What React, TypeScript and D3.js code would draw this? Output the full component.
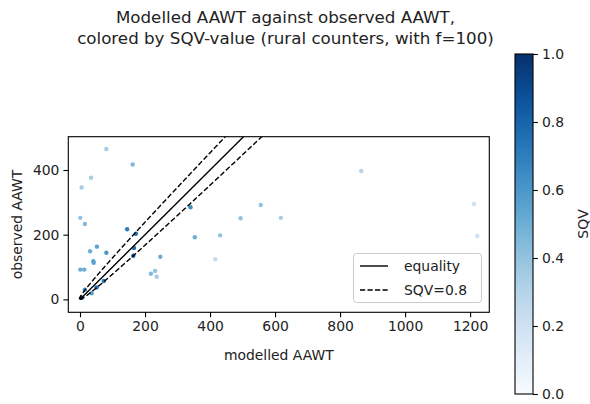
import { useEffect, useRef } from "react";
import * as d3 from "d3";

// modelled AAWT (x), observed AAWT (y), SQV (colour)
const modelled = [81, 162, 34, 5, 1, 15, 340, 494, 556, 618, 353, 431, 145, 172, 31, 52, 81, 166, 164, 41, 42, 247, 1, 13, 416, 218, 231, 236, 73, 51, 15, 36, 5, 865, 1212, 1222];
const observed = [465, 417, 376, 346, 252, 233, 285, 251, 292, 252, 192, 198, 217, 203, 149, 163, 144, 159, 135, 118, 113, 132, 92, 92, 124, 79, 88, 70, 57, 37, 30, 19, 5, 397, 295, 196];
const sqv = [0.35, 0.45, 0.35, 0.35, 0.4, 0.45, 0.65, 0.4, 0.4, 0.35, 0.5, 0.4, 0.7, 0.75, 0.5, 0.55, 0.6, 0.75, 0.8, 0.55, 0.55, 0.5, 0.5, 0.5, 0.25, 0.45, 0.4, 0.35, 0.7, 0.75, 0.65, 0.55, 0.9, 0.3, 0.2, 0.2];

const xTicks = [0, 200, 400, 600, 800, 1000, 1200];
const yTicks = [0, 200, 400];
const cbTicks = [0.0, 0.2, 0.4, 0.6, 0.8, 1.0];

const F = 100;
const SQV_LINE = 0.8;

const App = () => {
  const svgRef = useRef(null);

  useEffect(() => {
    const svg = d3.select(svgRef.current);
    svg.selectAll("*").remove();

    const left = 68.3, right = 489.3, top = 136.7, bottom = 312.3;
    const x = d3.scaleLinear().domain([-36, 1259]).range([left, right]);
    const y = d3.scaleLinear().domain([-40, 503]).range([bottom, top]);
    const color = (v) => d3.interpolateBlues(v);
    const font = "DejaVu Sans, sans-serif";

    svg.append("defs")
      .append("clipPath").attr("id", "plotclip")
      .append("rect").attr("x", left).attr("y", top).attr("width", right - left).attr("height", bottom - top);

    // title
    const title = svg.append("text").attr("text-anchor", "middle").attr("font-family", font).attr("font-size", 16.7).attr("fill", "#222");
    title.append("tspan").attr("x", 285.5).attr("y", 23).text("Modelled AAWT against observed AAWT,");
    title.append("tspan").attr("x", 285.5).attr("y", 44).text("colored by SQV-value (rural counters, with f=100)");

    // points
    const pts = modelled.map((m, i) => ({ m, o: observed[i], s: sqv[i] }));
    svg.append("g").attr("clip-path", "url(#plotclip)")
      .selectAll("circle").data(pts).join("circle")
      .attr("cx", (d) => x(d.m))
      .attr("cy", (d) => y(d.o))
      .attr("r", 2.2)
      .attr("fill", (d) => color(d.s));

    // equality + SQV=0.8 curves
    const k = (1 / SQV_LINE - 1);
    const cs = d3.range(0, 700, 2);
    const line = d3.line().x((d) => x(d[0])).y((d) => y(d[1]));
    const gl = svg.append("g").attr("clip-path", "url(#plotclip)");
    gl.append("path").attr("d", line(cs.map((c) => [c, c]))).attr("fill", "none").attr("stroke", "#000").attr("stroke-width", 1.4);
    [-1, 1].forEach((sgn) => {
      gl.append("path")
        .attr("d", line(cs.map((c) => [c + sgn * k * Math.sqrt(F * c), c])))
        .attr("fill", "none").attr("stroke", "#000").attr("stroke-width", 1.4)
        .attr("stroke-dasharray", "5.2,2.3");
    });

    // frame
    svg.append("rect").attr("x", left).attr("y", top).attr("width", right - left).attr("height", bottom - top)
      .attr("fill", "none").attr("stroke", "#000").attr("stroke-width", 1.1);

    // axes
    const gx = svg.append("g").attr("transform", `translate(0,${bottom})`)
      .call(d3.axisBottom(x).tickValues(xTicks).tickSize(4.9).tickPadding(4).tickFormat(d3.format("d")));
    const gy = svg.append("g").attr("transform", `translate(${left},0)`)
      .call(d3.axisLeft(y).tickValues(yTicks).tickSize(4.9).tickPadding(4).tickFormat(d3.format("d")));
    [gx, gy].forEach((g) => {
      g.select(".domain").remove();
      g.selectAll("line").attr("stroke", "#000").attr("stroke-width", 1.1);
      g.selectAll("text").attr("font-family", font).attr("font-size", 13.9).attr("fill", "#222");
    });

    svg.append("text").attr("x", (left + right) / 2).attr("y", 360).attr("text-anchor", "middle")
      .attr("font-family", font).attr("font-size", 13.9).attr("fill", "#222").text("modelled AAWT");
    svg.append("text").attr("transform", `translate(22,${(top + bottom) / 2}) rotate(-90)`).attr("text-anchor", "middle")
      .attr("font-family", font).attr("font-size", 13.9).attr("fill", "#222").text("observed AAWT");

    // legend
    const lg = svg.append("g");
    lg.append("rect").attr("x", 353.5).attr("y", 253.5).attr("width", 128).attr("height", 49).attr("rx", 3)
      .attr("fill", "#fff").attr("fill-opacity", 0.8).attr("stroke", "#ccc").attr("stroke-width", 1);
    lg.append("line").attr("x1", 360).attr("x2", 388).attr("y1", 266).attr("y2", 266).attr("stroke", "#000").attr("stroke-width", 1.4);
    lg.append("line").attr("x1", 360).attr("x2", 388).attr("y1", 290).attr("y2", 290).attr("stroke", "#000").attr("stroke-width", 1.4).attr("stroke-dasharray", "5.2,2.3");
    lg.append("text").attr("x", 404).attr("y", 271).attr("font-family", font).attr("font-size", 13.9).attr("fill", "#222").text("equality");
    lg.append("text").attr("x", 404).attr("y", 295).attr("font-family", font).attr("font-size", 13.9).attr("fill", "#222").text("SQV=0.8");

    // colorbar
    const cbL = 515, cbR = 533, cbT = 54, cbB = 394;
    const cy = d3.scaleLinear().domain([0, 1]).range([cbB, cbT]);
    const grad = svg.select("defs").append("linearGradient").attr("id", "cbgrad")
      .attr("x1", 0).attr("y1", 1).attr("x2", 0).attr("y2", 0);
    d3.range(0, 1.0001, 0.05).forEach((t) => {
      grad.append("stop").attr("offset", t).attr("stop-color", color(t));
    });
    svg.append("rect").attr("x", cbL).attr("y", cbT).attr("width", cbR - cbL).attr("height", cbB - cbT)
      .attr("fill", "url(#cbgrad)").attr("stroke", "#000").attr("stroke-width", 1.1);
    const gc = svg.append("g").attr("transform", `translate(${cbR},0)`)
      .call(d3.axisRight(cy).tickValues(cbTicks).tickSize(4.9).tickPadding(4).tickFormat(d3.format(".1f")));
    gc.select(".domain").remove();
    gc.selectAll("line").attr("stroke", "#000").attr("stroke-width", 1.1);
    gc.selectAll("text").attr("font-family", font).attr("font-size", 13.9).attr("fill", "#222");
    svg.append("text").attr("transform", `translate(588,${(cbT + cbB) / 2}) rotate(-90)`).attr("text-anchor", "middle")
      .attr("font-family", font).attr("font-size", 13.9).attr("fill", "#222").text("SQV");
  }, []);

  return (
    <div style={{ position: "absolute", left: 0, top: 0, width: 590, height: 404, background: "#fff" }}>
      <svg ref={svgRef} width={590} height={404}></svg>
    </div>
  );
};

export default App;
